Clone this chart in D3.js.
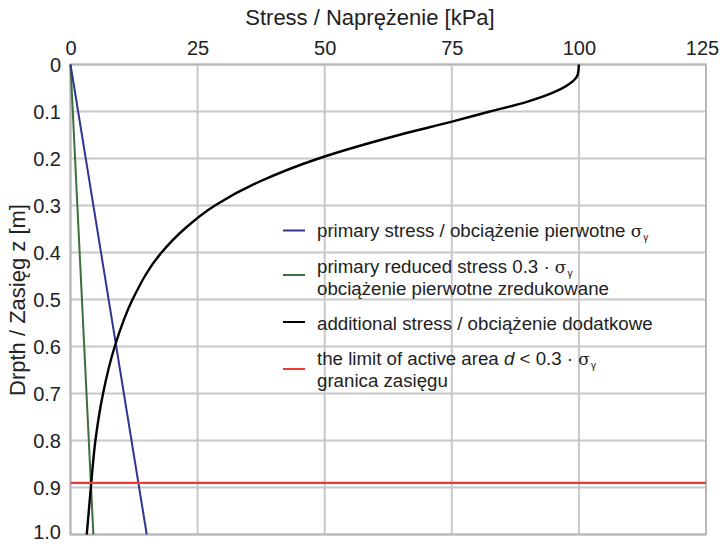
<!DOCTYPE html>
<html>
<head>
  <meta charset="utf-8">
  <title>Stress vs depth</title>
  <script src="https://cdn.jsdelivr.net/npm/d3@7"></script>
  <style>
    body { margin: 0; background: #fff; }
    text { font-family: "Liberation Sans", Arial, sans-serif; fill: #222; }
  </style>
</head>
<body>
  <div id="chart"></div>
<script>
  // values
  const xTicks = [0, 25, 50, 75, 100, 125];
  const yTicks = [0, 0.1, 0.2, 0.3, 0.4, 0.5, 0.6, 0.7, 0.8, 0.9, 1.0];
  const yTickLabels = ["0", "0.1", "0.2", "0.3", "0.4", "0.5", "0.6", "0.7", "0.8", "0.9", "1.0"];

  const primaryDepth = [0, 1.0];
  const primaryStress = [0, 15];
  const reducedStress = [0, 4.5];

  const addDepth = [0, 0.02, 0.04, 0.06, 0.08, 0.1, 0.12, 0.15, 0.2, 0.25, 0.3, 0.35, 0.4, 0.5, 0.6, 0.7, 0.8, 0.9, 1.0];
  const addStress = [100, 99.8, 98.3, 94.9, 89.6, 82.5, 75.6, 64.6, 48.8, 37.0, 28.4, 22.4, 17.9, 12.2, 8.7, 6.4, 4.9, 4.0, 3.2];

  const limitDepth = 0.89;

  const width = 720, height = 544;
  const margin = {top: 64.5, right: 14, bottom: 9.5, left: 70.5};
  const w = width - margin.left - margin.right,
        h = height - margin.top - margin.bottom;

  const svg = d3.select("#chart").append("svg")
      .attr("width", width)
      .attr("height", height);

  const g = svg.append("g")
      .attr("transform", "translate(" + margin.left + "," + margin.top + ")");

  const x = d3.scaleLinear().domain([0, 125]).range([0, w]);
  const y = d3.scaleLinear().domain([0, 1.0]).range([0, h]);

  // grid
  g.append("g").selectAll("line").data(xTicks).enter().append("line")
      .attr("x1", d => x(d)).attr("x2", d => x(d))
      .attr("y1", 0).attr("y2", h)
      .attr("stroke", "#c8c8c8").attr("stroke-width", 2);
  g.append("g").selectAll("line").data(yTicks).enter().append("line")
      .attr("x1", 0).attr("x2", w)
      .attr("y1", d => y(d)).attr("y2", d => y(d))
      .attr("stroke", "#c8c8c8").attr("stroke-width", 2);
  g.append("rect")
      .attr("width", w).attr("height", h)
      .attr("fill", "none").attr("stroke", "#b8b8b8").attr("stroke-width", 2);

  // axes (top and left, labels only)
  const xAxis = g.append("g")
      .call(d3.axisTop(x).tickValues(xTicks).tickSize(0).tickPadding(10));
  const yAxis = g.append("g")
      .call(d3.axisLeft(y).tickValues(yTicks).tickSize(0).tickPadding(9.5)
        .tickFormat((d, i) => yTickLabels[i]));
  [xAxis, yAxis].forEach(a => {
    a.select(".domain").remove();
    a.selectAll("text").attr("font-size", 20).attr("fill", "#222")
      .attr("font-family", "'Liberation Sans', Arial, sans-serif");
  });
  yAxis.selectAll("text").attr("dy", "0.34em");
  // labels at the page edges are nudged inside
  xAxis.selectAll("text").filter(d => d === 125).attr("dx", -4);
  yAxis.selectAll("text").filter(d => d === 1.0).attr("dy", "0.2em");

  svg.append("text")
      .attr("x", 370)
      .attr("y", 25)
      .attr("text-anchor", "middle")
      .attr("font-size", 22)
      .text("Stress / Naprężenie [kPa]");
  svg.append("text")
      .attr("transform", "translate(25,300) rotate(-90)")
      .attr("text-anchor", "middle")
      .attr("font-size", 22)
      .text("Drpth / Zasięg z [m]");

  // lines
  const line = d3.line().x(d => x(d[0])).y(d => y(d[1]));
  const curve = d3.line().x(d => x(d[0])).y(d => y(d[1])).curve(d3.curveMonotoneY);

  g.append("path")
      .datum(d3.zip(reducedStress, primaryDepth))
      .attr("d", line).attr("fill", "none")
      .attr("stroke", "#3c6e3c").attr("stroke-width", 2);
  g.append("path")
      .datum(d3.zip(primaryStress, primaryDepth))
      .attr("d", line).attr("fill", "none")
      .attr("stroke", "#2e3592").attr("stroke-width", 2);
  g.append("path")
      .datum(d3.zip(addStress, addDepth))
      .attr("d", curve).attr("fill", "none")
      .attr("stroke", "#000").attr("stroke-width", 2.4);
  g.append("line")
      .attr("x1", 0).attr("x2", w)
      .attr("y1", y(limitDepth)).attr("y2", y(limitDepth))
      .attr("stroke", "#f03a3a").attr("stroke-width", 2.2);

  // legend
  const legend = svg.append("g").attr("font-size", 18.7);
  const items = [
    {color: "#2e3592", ly: 230.5, lines: [{y: 237, t: "primary stress / obciążenie pierwotne ", sigma: true}]},
    {color: "#3c6e3c", ly: 275, lines: [{y: 273, t: "primary reduced stress 0.3 · ", sigma: true},
                                         {y: 295, t: "obciążenie pierwotne zredukowane"}]},
    {color: "#000", ly: 322, lines: [{y: 329.5, t: "additional stress / obciążenie dodatkowe"}]},
    {color: "#f03a3a", ly: 369, lines: [{y: 365, t: "the limit of active area ", italicD: true},
                                         {y: 387, t: "granica zasięgu"}]}
  ];
  items.forEach(it => {
    legend.append("line")
        .attr("x1", 283).attr("x2", 305)
        .attr("y1", it.ly).attr("y2", it.ly)
        .attr("stroke", it.color).attr("stroke-width", 2);
    it.lines.forEach(l => {
      const t = legend.append("text").attr("x", 317).attr("y", l.y);
      t.append("tspan").text(l.t);
      if (l.italicD) {
        t.append("tspan").attr("font-style", "italic").text("d");
        t.append("tspan").text(" < 0.3 · ");
        l.sigma = true;
      }
      if (l.sigma) {
        t.append("tspan").attr("font-family", "'DejaVu Serif', serif").attr("font-size", 17).text("σ");
        t.append("tspan").attr("font-size", 10).attr("dx", 1).attr("dy", 4).text("γ");
      }
    });
  });
</script>
</body>
</html>
